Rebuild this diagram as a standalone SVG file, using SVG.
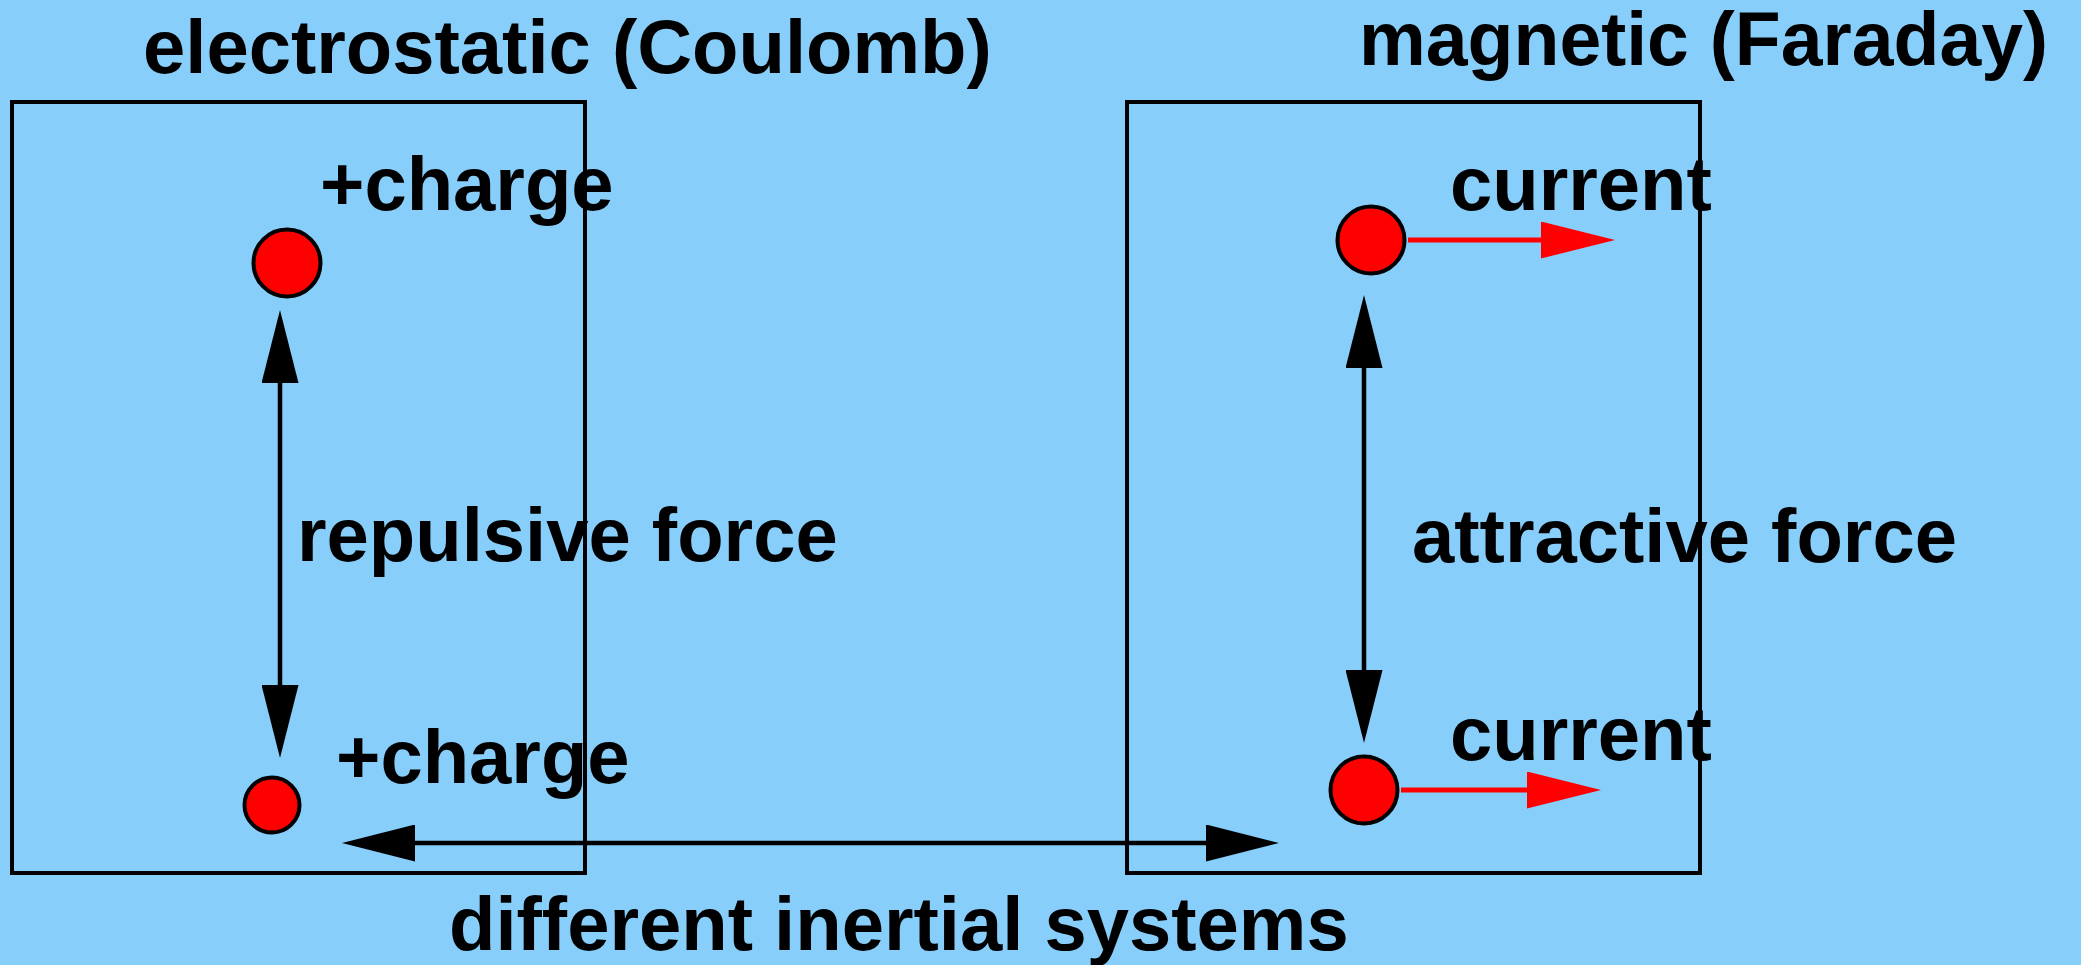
<svg xmlns="http://www.w3.org/2000/svg" width="2081" height="965" viewBox="0 0 2081 965">
  <style>
    .lbl { font-family: "Liberation Sans", Arial, Helvetica, sans-serif; font-weight: bold; font-size: 76px; fill: #000; }
    .frame { fill: none; stroke: #000; stroke-width: 4; }
    .charge { fill: #ff0000; stroke: #000; stroke-width: 4; }
    .force { stroke: #000; stroke-width: 4.5; fill: none; }
    .cur { stroke: #ff0000; stroke-width: 5; fill: none; }
  </style>
  <defs>
    <marker id="blackHead" viewBox="0 0 73 37" refX="0" refY="18.5" markerWidth="73" markerHeight="37" markerUnits="userSpaceOnUse" orient="auto-start-reverse">
      <path d="M0,0 L73,18.5 L0,37 Z" fill="#000"/>
    </marker>
    <marker id="redHead" viewBox="0 0 74 37" refX="0" refY="18.5" markerWidth="74" markerHeight="37" markerUnits="userSpaceOnUse" orient="auto">
      <path d="M0,0 L74,18.5 L0,37 Z" fill="#ff0000"/>
    </marker>
  </defs>
  <rect x="0" y="0" width="2081" height="965" fill="#87cefa"/>

  <g id="title-electrostatic"><text class="lbl" x="143" y="73">electrostatic (Coulomb)</text></g>
  <g id="title-magnetic"><text class="lbl" x="1359" y="65" textLength="689" lengthAdjust="spacingAndGlyphs">magnetic (Faraday)</text></g>

  <g id="frame-electrostatic"><rect class="frame" x="12" y="102" width="573" height="771"/></g>
  <g id="frame-magnetic"><rect class="frame" x="1127" y="102" width="573" height="771"/></g>

  <g id="charge-top">
    <circle class="charge" cx="287" cy="263" r="33.5"/>
    <text class="lbl" x="320" y="210">+charge</text>
  </g>
  <g id="charge-bottom">
    <circle class="charge" cx="272" cy="805" r="27.5"/>
    <text class="lbl" x="336" y="783">+charge</text>
  </g>
  <g id="current-top">
    <circle class="charge" cx="1371" cy="240" r="33.5"/>
    <text class="lbl" x="1450" y="210">current</text>
  </g>
  <g id="current-bottom">
    <circle class="charge" cx="1364" cy="790" r="33.5"/>
    <text class="lbl" x="1450" y="760">current</text>
  </g>

  <g id="label-repulsive"><text class="lbl" x="297" y="561">repulsive force</text></g>
  <g id="label-attractive"><text class="lbl" x="1412" y="562">attractive force</text></g>
  <g id="label-inertial"><text class="lbl" x="449" y="950">different inertial systems</text></g>

  <g id="connectors">
    <line class="force" x1="280" y1="383" x2="280" y2="685" marker-start="url(#blackHead)" marker-end="url(#blackHead)"/>
    <line class="force" x1="1364" y1="368" x2="1364" y2="670" marker-start="url(#blackHead)" marker-end="url(#blackHead)"/>
    <line class="force" x1="415" y1="843" x2="1206" y2="843" marker-start="url(#blackHead)" marker-end="url(#blackHead)"/>
    <line class="cur" x1="1408" y1="240" x2="1541" y2="240" marker-end="url(#redHead)"/>
    <line class="cur" x1="1401" y1="790" x2="1527" y2="790" marker-end="url(#redHead)"/>
  </g>
</svg>
